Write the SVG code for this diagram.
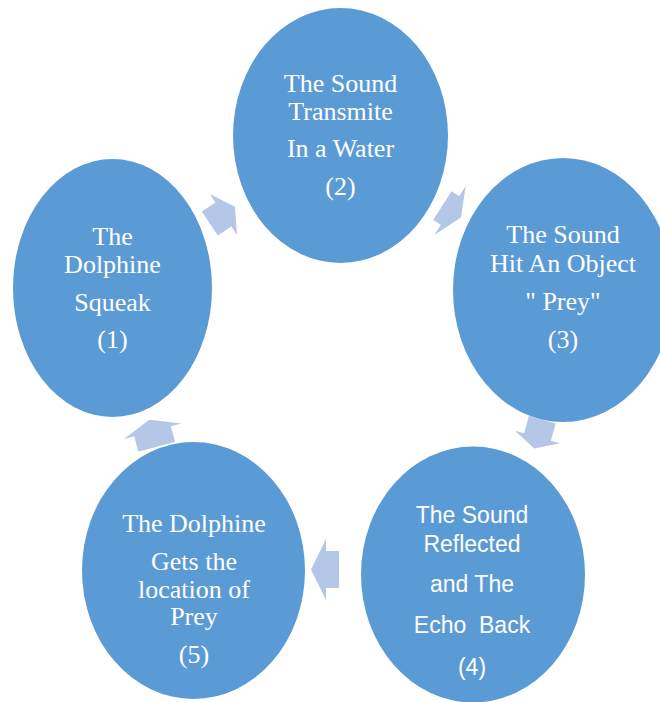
<svg xmlns="http://www.w3.org/2000/svg" width="660" height="702" viewBox="0 0 660 702">
<style>
.node{fill:#5B9BD5}
.arr{fill:#B4C7E7}
.t{font-family:"Liberation Serif","Times New Roman",serif;font-size:26px;fill:#FFFFFF;text-anchor:middle}
.s{font-family:"Liberation Sans",Arial,sans-serif;font-size:23px;fill:#FFFFFF;text-anchor:middle}
</style>
<rect width="660" height="702" fill="#FFFFFF"/>
<g id="connectors">
<polygon class="arr" points="201.8,211.6 215.4,202.5 209.8,194.1 235,206.7 237,234.9 231.4,226.5 217.8,235.6"/>
<polygon class="arr" points="451.6,191.3 459.2,196.2 465.7,186.1 460.9,217.5 434.3,234.9 440.8,224.8 433.2,219.9"/>
<polygon class="arr" points="528.9,415.9 555.8,423.5 550.9,440.8 560.1,443.3 534.3,448.5 514.9,430.7 524.1,433.2"/>
<polygon class="arr" points="339,551 339,588 326,588 326,600 311,569.5 326,539 326,551"/>
<polygon class="arr" points="138.4,451.8 175.1,441.7 170.8,426.3 181.5,423.4 149.3,419.7 123.6,439.2 134.2,436.3"/>
</g>
<g id="node1">
<ellipse class="node" cx="112.5" cy="288" rx="99.5" ry="129"/>
<text class="t" x="112.5" y="245">The</text>
<text class="t" x="112.5" y="273">Dolphine</text>
<text class="t" x="112.5" y="311">Squeak</text>
<text class="t" x="112.5" y="348">(1)</text>
</g>
<g id="node2">
<ellipse class="node" cx="340.5" cy="135.5" rx="107.5" ry="127.5"/>
<text class="t" x="340.5" y="92">The Sound</text>
<text class="t" x="340.5" y="119.5">Transmite</text>
<text class="t" x="340.5" y="157">In a Water</text>
<text class="t" x="340.5" y="195">(2)</text>
</g>
<g id="node3">
<ellipse class="node" cx="563" cy="290" rx="110" ry="132"/>
<text class="t" x="563" y="243">The Sound</text>
<text class="t" x="563" y="272">Hit An Object</text>
<text class="t" x="563" y="310">" Prey"</text>
<text class="t" x="563" y="348">(3)</text>
</g>
<g id="node4">
<ellipse class="node" cx="473" cy="574.5" rx="112" ry="128"/>
<text class="s" x="472" y="523">The Sound</text>
<text class="s" x="472" y="552">Reflected</text>
<text class="s" x="472" y="592">and The</text>
<text class="s" x="472" y="633" xml:space="preserve">Echo  Back</text>
<text class="s" x="472" y="675">(4)</text>
</g>
<g id="node5">
<ellipse class="node" cx="193.5" cy="570.5" rx="111.5" ry="128.5"/>
<text class="t" x="194" y="532">The Dolphine</text>
<text class="t" x="194" y="570">Gets the</text>
<text class="t" x="194" y="598">location of</text>
<text class="t" x="194" y="625">Prey</text>
<text class="t" x="194" y="663">(5)</text>
</g>
</svg>
